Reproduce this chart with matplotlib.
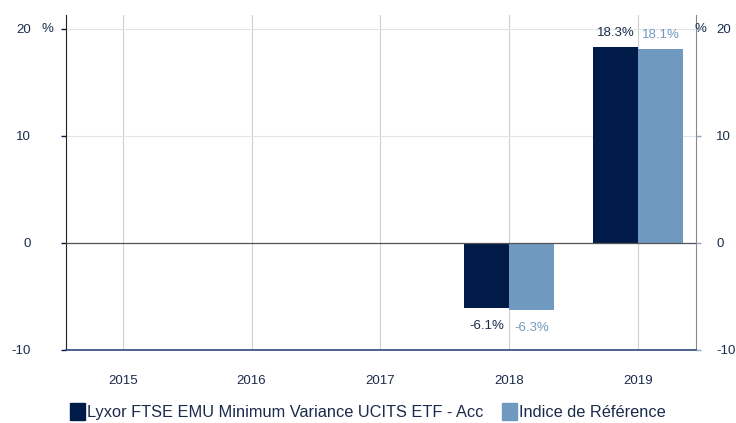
import matplotlib.pyplot as plt
from matplotlib.patches import Patch

years = ["2015", "2016", "2017", "2018", "2019"]
fund = [None, None, None, -6.1, 18.3]
index = [None, None, None, -6.3, 18.1]
fund_name = "Lyxor FTSE EMU Minimum Variance UCITS ETF - Acc"
index_name = "Indice de Référence"
yticks = [-10, 0, 10, 20]

DARK = "#001b48"
LIGHT = "#6f99bf"
TXT = "#1b2b4b"

plt.rcParams["font.family"] = ["Liberation Sans", "DejaVu Sans"]
plt.rcParams["font.size"] = 9.5

fig = plt.figure(figsize=(7.36, 4.23), dpi=100)
ax = fig.add_axes([66 / 736, 1 - 350 / 423, 630 / 736, 335 / 423])

w = 0.35
for i, (f, r) in enumerate(zip(fund, index)):
    if f is None:
        continue
    ax.bar(i - w / 2, f, w, color=DARK, zorder=3)
    ax.bar(i + w / 2, r, w, color=LIGHT, zorder=3)
    off_f = 0.8 if f > 0 else -1.1
    off_r = 0.8 if r > 0 else -1.1
    ax.text(i - w / 2, f + off_f, f"{f:.1f}%", ha="center",
            va="bottom" if f > 0 else "top", color=TXT)
    ax.text(i + w / 2, r + off_r, f"{r:.1f}%", ha="center",
            va="bottom" if r > 0 else "top", color=LIGHT)

ax.set_xlim(-0.44, 4.45)
ax.set_ylim(-10, 21.3)
ax.set_xticks(range(len(years)))
ax.set_xticklabels(years)
ax.set_yticks(yticks)
ax.set_yticklabels([str(v) for v in yticks])
ax.grid(axis="x", color="#d0d0d0", linewidth=0.8, zorder=0)
ax.grid(axis="y", color="#e4e4e4", linewidth=0.8, zorder=0)
ax.axhline(0, color="#555555", linewidth=0.9, zorder=4)

ax.spines["top"].set_visible(False)
ax.spines["left"].set_color("#222222")
ax.spines["right"].set_color("#888888")
ax.spines["bottom"].set_color("#2d4a78")
ax.spines["bottom"].set_linewidth(1.2)

# pads are in points (1pt = 1.39px here)
ax.tick_params(axis="x", length=0, pad=18, labelcolor=TXT)
ax.tick_params(axis="y", length=3.6, width=1, color=DARK, pad=21.5,
               labelcolor=TXT)

ax2 = ax.twinx()
ax2.set_ylim(ax.get_ylim())
ax2.set_yticks(yticks)
ax2.set_yticklabels([str(v) for v in yticks])
ax2.tick_params(axis="y", length=3.6, width=1, color="#8fa6c4", pad=11,
                labelcolor=TXT)
for s in ["top", "left", "bottom", "right"]:
    ax2.spines[s].set_visible(False)

# unit labels next to the top ticks
ax.text(-0.585, 20, "%", ha="center", va="center", color=TXT)
ax.text(4.485, 20, "%", ha="center", va="center", color=TXT)

handles = [Patch(color=DARK, label=fund_name), Patch(color=LIGHT, label=index_name)]
fig.legend(handles=handles, loc="lower center", bbox_to_anchor=(0.5, -0.028),
           ncol=2, frameon=False, handlelength=0.92, handleheight=1.22,
           handletextpad=0.15, columnspacing=1.1, fontsize=11.8,
           labelcolor=TXT)

fig.savefig("out.png", dpi=100)
